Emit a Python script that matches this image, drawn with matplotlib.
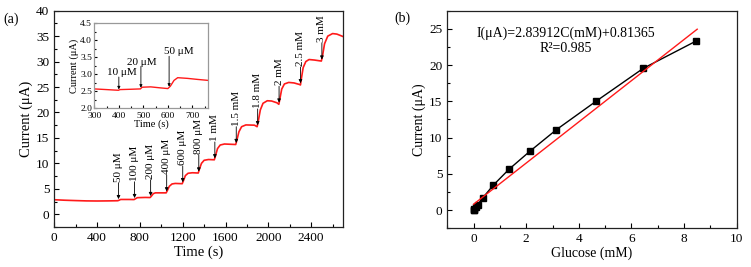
import numpy as np
import matplotlib
matplotlib.use("Agg")
import matplotlib.pyplot as plt
from matplotlib.ticker import MultipleLocator

plt.rcParams['font.family'] = ['Liberation Serif', 'DejaVu Serif']

# (a) amperometric trace
time_s = [0, 100, 200, 300, 400, 500, 590, 600, 620, 700, 745, 755, 775, 850, 895,
          905, 925, 945, 1045, 1055, 1075, 1100, 1130, 1195, 1205, 1225, 1250, 1290, 1345,
          1355, 1375, 1400, 1440, 1495, 1505, 1525, 1550, 1590, 1695, 1705, 1725, 1750,
          1790, 1870, 1895, 1905, 1925, 1950, 1990, 2030, 2080, 2098, 2105, 2125, 2150,
          2190, 2240, 2290, 2300, 2305, 2325, 2350, 2380, 2430, 2495, 2505, 2525, 2555,
          2600, 2640, 2700]
current_ua = [2.85, 2.75, 2.68, 2.62, 2.6, 2.62, 2.65, 2.7, 2.9, 2.9, 2.88, 3.0, 3.25, 3.3, 3.28,
              3.5, 4.05, 4.2, 4.2, 4.6, 5.5, 5.95, 6.05, 6.0, 6.5, 7.6, 8.05, 8.15, 8.1,
              8.8, 10.0, 10.6, 10.75, 10.7, 11.4, 12.9, 13.6, 13.8, 13.7, 14.5, 16.2, 17.2,
              17.55, 17.5, 17.2, 18.2, 20.5, 21.8, 22.3, 22.25, 21.9, 21.6, 22.4, 24.6, 25.6,
              25.9, 25.8, 25.5, 25.4, 26.2, 28.8, 30.0, 30.4, 30.3, 30.1, 31.0, 33.5, 35.0,
              35.5, 35.4, 34.9]

add_times = [600, 750, 900, 1050, 1200, 1350, 1500, 1700, 1900, 2100, 2300, 2500]
add_labels = ['50 μM', '100 μM', '200 μM', '400 μM', '600 μM', '800 μM', '1 mM',
              '1.5 mM', '1.8 mM', '2 mM', '2.5 mM', '3 mM']

# inset trace
inset_time = [300, 350, 398, 405, 450, 488, 495, 530, 570, 600, 610, 625, 640, 680, 720, 765]
inset_current = [2.57, 2.55, 2.53, 2.55, 2.56, 2.57, 2.62, 2.63, 2.6, 2.58, 2.65, 2.82,
                 2.9, 2.88, 2.85, 2.82]
inset_add_times = [400, 490, 605]
inset_labels = ['10 μM', '20 μM', '50 μM']

# (b) calibration
glucose_mm = [0, 0.01, 0.03, 0.08, 0.15, 0.35, 0.75, 1.35, 2.15, 3.15, 4.65, 6.45, 8.45]
response_ua = [0, 0.05, 0.15, 0.4, 0.75, 1.7, 3.45, 5.65, 8.15, 11.1, 15.0, 19.55, 23.3]
fit_slope = 2.83912
fit_intercept = 0.81365
fit_range = [0, 8.5]


def style_axes(ax, color='#222222'):
    for side in ['top', 'right', 'left', 'bottom']:
        ax.spines[side].set_color(color)
        ax.spines[side].set_linewidth(0.9)
    ax.tick_params(which='both', direction='in', top=False, right=False, colors='black')
    ax.tick_params(which='major', length=3.5, width=0.8)
    ax.tick_params(which='minor', length=2, width=0.8)


fig = plt.figure(figsize=(7.51, 2.67), dpi=100)

# ---- panel (a)
ax1 = fig.add_axes([0.0723, 0.150, 0.3848, 0.810])
ax1.plot(time_s, current_ua, color='#ff1a1a', lw=1.2)
ax1.set_xlim(0, 2700)
ax1.set_ylim(-2.5, 40)
ax1.xaxis.set_major_locator(MultipleLocator(400))
ax1.xaxis.set_minor_locator(MultipleLocator(200))
ax1.yaxis.set_major_locator(MultipleLocator(5))
ax1.yaxis.set_minor_locator(MultipleLocator(2.5))
ax1.tick_params(labelsize=9.5)
ax1.set_xlabel('Time (s)', fontsize=10.5, labelpad=1)
ax1.set_ylabel('Current (μA)', fontsize=10.5, labelpad=2)
style_axes(ax1)

for t, lab in zip(add_times, add_labels):
    tip = np.interp(t - 5, time_s, current_ua) + 0.3
    tail = tip + 3.2
    ax1.annotate('', xy=(t, tip), xytext=(t, tail),
                 arrowprops=dict(arrowstyle='-|>', color='black', lw=0.6, mutation_scale=5,
                                 shrinkA=0, shrinkB=0))
    ax1.text(t, tail + 0.2, lab, rotation=90, ha='center', va='bottom', fontsize=8)

fig.text(0.005, 0.915, '(a)', fontsize=10)

# inset
axi = fig.add_axes([0.1256, 0.5944, 0.1518, 0.3184])
axi.plot(inset_time, inset_current, color='#ff1a1a', lw=1.0)
axi.set_xlim(300, 765)
axi.set_ylim(2.0, 4.5)
axi.xaxis.set_major_locator(MultipleLocator(100))
axi.xaxis.set_minor_locator(MultipleLocator(50))
axi.yaxis.set_major_locator(MultipleLocator(0.5))
axi.yaxis.set_minor_locator(MultipleLocator(0.25))
style_axes(axi, color='#999999')
axi.tick_params(labelsize=6.8)
axi.tick_params(axis='x', pad=2.5)
axi.tick_params(axis='y', pad=1.5)
axi.tick_params(which='major', length=2.5)
axi.tick_params(which='minor', length=1.5)
axi.set_xlabel('Time (s)', fontsize=7.5, labelpad=0)
axi.set_ylabel('Current (μA)', fontsize=7.5, labelpad=1)

inset_text_y = [3.05, 3.36, 3.66]
inset_text_dx = [11, 5, 38]
for t, lab, ty, dx in zip(inset_add_times, inset_labels, inset_text_y, inset_text_dx):
    tip = np.interp(t, inset_time, inset_current) + 0.02
    axi.annotate('', xy=(t, tip), xytext=(t, ty - 0.13),
                 arrowprops=dict(arrowstyle='-|>', color='black', lw=0.6, mutation_scale=4,
                                 shrinkA=0, shrinkB=0))
    axi.text(t + dx, ty, lab, ha='center', va='center', fontsize=8)

# ---- panel (b)
ax2 = fig.add_axes([0.5956, 0.145, 0.3853, 0.815])
ax2.plot(glucose_mm, response_ua, color='black', lw=1.0, marker='s', ms=3.8)
fit_x = np.array(fit_range)
ax2.plot(fit_x, fit_slope * fit_x + fit_intercept, color='#ff1a1a', lw=1.0)
ax2.set_xlim(-1, 10)
ax2.set_ylim(-2.5, 27.5)
ax2.xaxis.set_major_locator(MultipleLocator(2))
ax2.xaxis.set_minor_locator(MultipleLocator(1))
ax2.yaxis.set_major_locator(MultipleLocator(5))
ax2.yaxis.set_minor_locator(MultipleLocator(2.5))
ax2.tick_params(labelsize=9.5)
ax2.set_xlabel('Glucose (mM)', fontsize=10, labelpad=1)
ax2.set_ylabel('Current (μA)', fontsize=10, labelpad=2)
style_axes(ax2)

ax2.text(0.41, 0.895, 'I(μA)=%.5fC(mM)+%.5f' % (fit_slope, fit_intercept),
         transform=ax2.transAxes, ha='center', va='center', fontsize=10)
ax2.text(0.41, 0.825, 'R²=0.985', transform=ax2.transAxes, ha='center', va='center',
         fontsize=10)
fig.text(0.525, 0.92, '(b)', fontsize=10)

fig.savefig('out.png', dpi=100)
